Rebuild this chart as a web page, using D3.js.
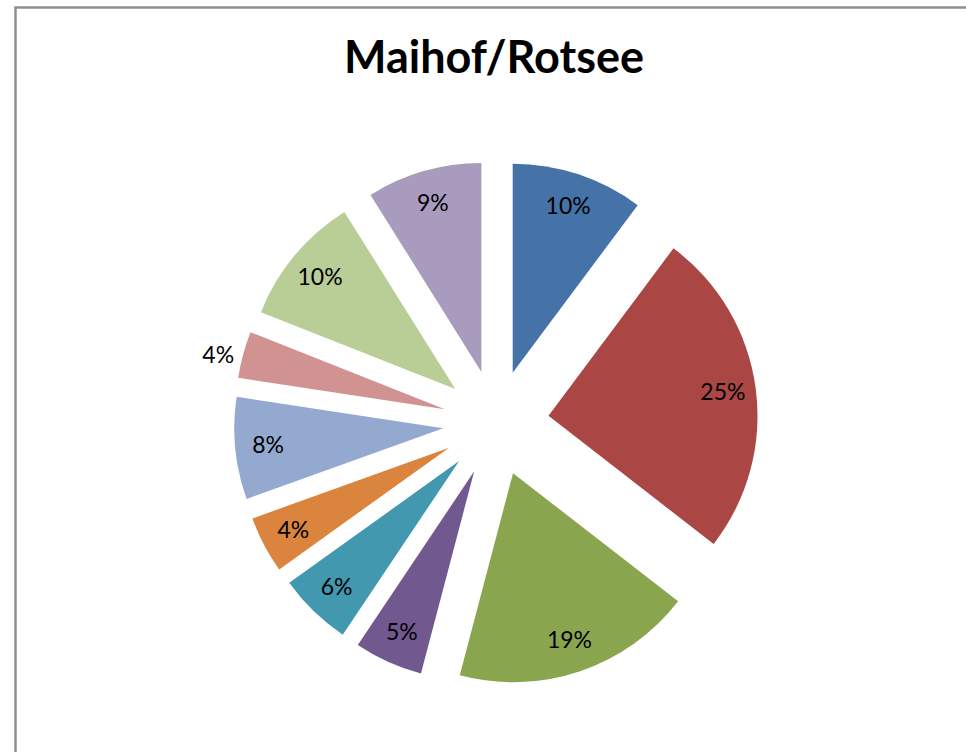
<!DOCTYPE html>
<html>
<head>
<meta charset="utf-8">
<script src="https://cdn.jsdelivr.net/npm/d3@7"></script>
<style>
  body { margin: 0; background: #fff; }
  svg { display: block; }
</style>
</head>
<body>
<svg id="chart" width="966" height="752"></svg>
<script>
/*
  exploded pie chart, Maihof/Rotsee
*/

// slice values in percent, clockwise from 12 o'clock
var values = [10.2, 25.3, 18.6, 5.3, 5.7, 4.4, 7.9, 3.6, 10.1, 8.9];
var colors = ['#4572A7', '#AA4643', '#89A54E', '#71588F', '#4198AF',
              '#DB843D', '#93A9CF', '#D19392', '#B9CD96', '#A99BBD'];
var title = 'Maihof/Rotsee';

var svg = d3.select('#chart');
var cx = 496, cy = 423;
var radius = 209;
var explode = 53;

// frame round the chart area (runs off the right and bottom)
svg.append('rect')
  .attr('x', 15.5).attr('y', 7.5)
  .attr('width', 1000).attr('height', 800)
  .attr('fill', 'none')
  .attr('stroke', '#8f8f8f')
  .attr('stroke-width', 2.5);

// title
svg.append('text')
  .attr('x', 494).attr('y', 73)
  .attr('text-anchor', 'middle')
  .style('font-family', 'Lato, "Open Sans", sans-serif')
  .style('font-weight', 'bold')
  .style('font-size', '45px')
  .text(title);

var pie = d3.pie().sort(null).value(function(d) { return d; });
var arc = d3.arc().innerRadius(0).outerRadius(radius);
var total = d3.sum(values);

var slices = svg.append('g')
  .attr('transform', 'translate(' + cx + ',' + cy + ')')
  .selectAll('g')
  .data(pie(values))
  .enter().append('g')
  .attr('transform', function(d) {
    var mid = (d.startAngle + d.endAngle) / 2;
    return 'translate(' + (explode * Math.sin(mid)) + ',' + (-explode * Math.cos(mid)) + ')';
  });

slices.append('path')
  .attr('d', arc)
  .attr('fill', function(d, i) { return colors[i]; });

// labels: inside for most, outside for the smallest slice
function labelPos(d) {
  var mid = (d.startAngle + d.endAngle) / 2;
  if (d.value < 4) mid -= 0.03;
  var dist = d.value < 4 ? 233 : 176;
  return [dist * Math.sin(mid), -dist * Math.cos(mid)];
}

slices.append('text')
  .attr('x', function(d) { return labelPos(d)[0]; })
  .attr('y', function(d) { return labelPos(d)[1]; })
  .attr('dy', '0.35em')
  .attr('text-anchor', 'middle')
  .style('font-family', 'Lato, "Open Sans", sans-serif')
  .style('font-size', '23px')
  .attr('fill', '#000')
  .text(function(d) { return Math.round(d.value / total * 100) + '%'; });
</script>
</body>
</html>
